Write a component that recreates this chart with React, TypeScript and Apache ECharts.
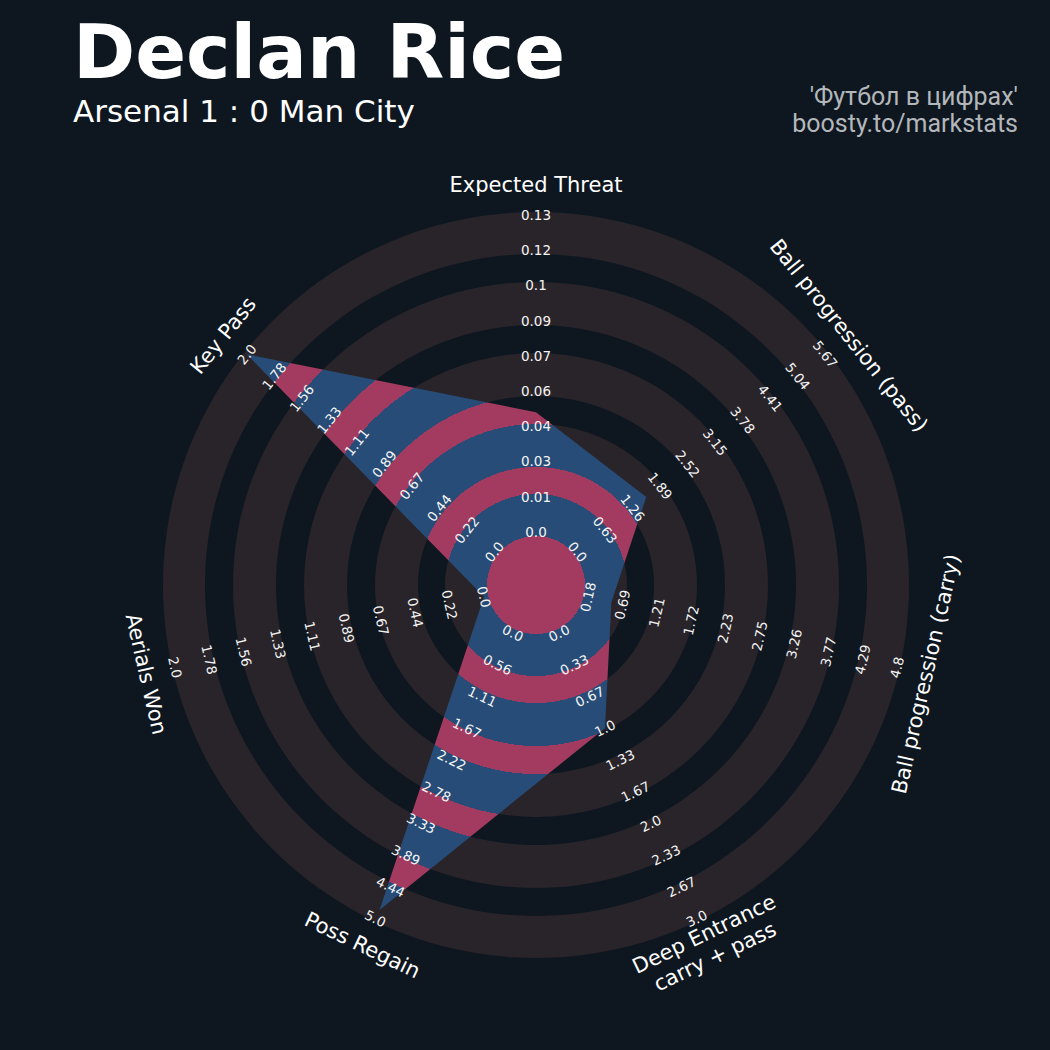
import React, { useEffect, useRef } from 'react';
import * as echarts from 'echarts';

// ---------------- data ----------------
const PARAMS = [
  'Expected Threat',
  'Ball progression (pass)',
  'Ball progression (carry)',
  'Deep Entrance\ncarry + pass',
  'Poss Regain',
  'Aerials Won',
  'Key Pass',
];
const RANGE_MIN = [0, 0, 0.18, 0, 0, 0, 0];
const RANGE_MAX = [0.13, 5.67, 4.8, 3.0, 5.0, 2.0, 2.0];
const VALUES = [0.049, 1.57, 0.53, 1.0, 4.85, 0, 2.0];

const TICKS_XT = ['0.0', '0.01', '0.03', '0.04', '0.06', '0.07', '0.09', '0.1', '0.12', '0.13'];
const TICKS_PASS = ['0.0', '0.63', '1.26', '1.89', '2.52', '3.15', '3.78', '4.41', '5.04', '5.67'];
const TICKS_CARRY = ['0.18', '0.69', '1.21', '1.72', '2.23', '2.75', '3.26', '3.77', '4.29', '4.8'];
const TICKS_DEEP = ['0.0', '0.33', '0.67', '1.0', '1.33', '1.67', '2.0', '2.33', '2.67', '3.0'];
const TICKS_REGAIN = ['0.0', '0.56', '1.11', '1.67', '2.22', '2.78', '3.33', '3.89', '4.44', '5.0'];
const TICKS_AERIAL = ['0.0', '0.22', '0.44', '0.67', '0.89', '1.11', '1.33', '1.56', '1.78', '2.0'];
const TICKS_KEYPASS = ['0.0', '0.22', '0.44', '0.67', '0.89', '1.11', '1.33', '1.56', '1.78', '2.0'];
const TICKS = [TICKS_XT, TICKS_PASS, TICKS_CARRY, TICKS_DEEP, TICKS_REGAIN, TICKS_AERIAL, TICKS_KEYPASS];

const TITLE = 'Declan Rice';
const SUBTITLE = 'Arsenal 1 : 0 Man City';
const CREDIT_1 = "'Футбол в цифрах'";
const CREDIT_2 = 'boosty.to/markstats';

// ---------------- layout / style ----------------
const CX = 536;
const CY = 585;
const R_ZERO = 53.3; // pixel radius of the range minimum
const UNIT = 316.8; // pixels from range min to range max
const K = R_ZERO / UNIT;
const T_MAX = 1.2;
const T_NAME = (400 - R_ZERO) / UNIT;
const BAND_EDGES = [0, 49, 91, 118, 161, 189, 232, 260, 303, 331, 373];
const OUTER = 373;

const BG = '#0e1720';
const RING = '#28242a';
const BLUE = '#264c77';
const RED = '#a33a5f';
const TEXT = '#ffffff';
const CREDIT_COLOR = '#b3b7bb';

const N = PARAMS.length;
const ANGLES = PARAMS.map((_, i) => (i * 360) / N);
const NORM = VALUES.map((v, i) => (v - RANGE_MIN[i]) / (RANGE_MAX[i] - RANGE_MIN[i]));

const cwRot = (theta: number) => (theta <= 90 ? theta : theta < 270 ? theta - 180 : theta - 360);

export default function App() {
  const ref = useRef<HTMLDivElement>(null);

  useEffect(() => {
    document.body.style.margin = '0';
    document.body.style.background = BG;
    const chart = echarts.init(ref.current!, null, { renderer: 'svg' });

    const rings: any[] = [];
    for (let j = 1; j < BAND_EDGES.length - 1; j += 2) {
      rings.push({
        type: 'ring',
        z: 0,
        shape: { cx: CX, cy: CY, r0: BAND_EDGES[j], r: BAND_EDGES[j + 1] },
        style: { fill: RING },
        silent: true,
      });
    }

    const stops: any[] = [];
    for (let j = 0; j < BAND_EDGES.length - 1; j++) {
      const c = j % 2 === 0 ? RED : BLUE;
      stops.push({ offset: BAND_EDGES[j] / OUTER, color: c });
      stops.push({ offset: BAND_EDGES[j + 1] / OUTER, color: c });
    }

    const tickData: number[][] = [];
    TICKS.forEach((arr, i) => {
      arr.forEach((_, j) => {
        tickData.push([j / (arr.length - 1), ANGLES[i], i, j]);
      });
    });

    const option: any = {
      animation: false,
      backgroundColor: BG,
      polar: { center: [CX, CY], radius: (T_MAX + K) * UNIT },
      radiusAxis: { type: 'value', min: -K, max: T_MAX, show: false },
      angleAxis: { type: 'value', min: 0, max: 360, startAngle: 90, clockwise: true, show: false },
      graphic: [
        ...rings,
        {
          type: 'text',
          x: 73,
          y: 52,
          style: { text: TITLE, fill: TEXT, font: 'bold 75px "DejaVu Sans"', align: 'left', verticalAlign: 'middle' },
        },
        {
          type: 'text',
          x: 73,
          y: 111,
          style: { text: SUBTITLE, fill: TEXT, font: '31px "DejaVu Sans"', align: 'left', verticalAlign: 'middle' },
        },
        {
          type: 'text',
          x: 1018,
          y: 96,
          style: { text: CREDIT_1, fill: CREDIT_COLOR, font: '25px Roboto', align: 'right', verticalAlign: 'middle' },
        },
        {
          type: 'text',
          x: 1018,
          y: 123,
          style: { text: CREDIT_2, fill: CREDIT_COLOR, font: '25px Roboto', align: 'right', verticalAlign: 'middle' },
        },
      ],
      series: [
        {
          type: 'custom',
          coordinateSystem: 'polar',
          encode: { radius: 0, angle: 1 },
          z: 2,
          data: NORM.map((t, i) => [t, ANGLES[i]]),
          renderItem: (params: any, api: any) => {
            if (params.dataIndex !== 0) return null;
            const pts = NORM.map((t, i) => api.coord([t, ANGLES[i]]));
            const c = api.coord([-K, 0]);
            return {
              type: 'polygon',
              shape: { points: pts },
              style: { fill: new echarts.graphic.RadialGradient(c[0], c[1], OUTER, stops, true) },
            };
          },
        },
        {
          type: 'custom',
          coordinateSystem: 'polar',
          encode: { radius: 0, angle: 1 },
          z: 3,
          data: tickData,
          renderItem: (params: any, api: any) => {
            const p = api.coord([api.value(0), api.value(1)]);
            const i = api.value(2);
            const j = api.value(3);
            return {
              type: 'text',
              x: p[0],
              y: p[1],
              rotation: (-cwRot(ANGLES[i]) * Math.PI) / 180,
              style: {
                text: TICKS[i][j],
                fill: '#f4f4f4',
                font: '13.5px "DejaVu Sans"',
                align: 'center',
                verticalAlign: 'middle',
              },
            };
          },
        },
        {
          type: 'custom',
          coordinateSystem: 'polar',
          encode: { radius: 0, angle: 1 },
          z: 3,
          data: PARAMS.map((_, i) => [T_NAME, ANGLES[i], i]),
          renderItem: (params: any, api: any) => {
            const p = api.coord([api.value(0), api.value(1)]);
            const i = api.value(2);
            return {
              type: 'text',
              x: p[0],
              y: p[1],
              rotation: (-cwRot(ANGLES[i]) * Math.PI) / 180,
              style: {
                text: PARAMS[i],
                fill: TEXT,
                font: '21px "DejaVu Sans"',
                lineHeight: 25,
                align: 'center',
                verticalAlign: 'middle',
              },
            };
          },
        },
      ],
    };

    chart.setOption(option);
    return () => chart.dispose();
  }, []);

  return <div ref={ref} style={{ width: 1050, height: 1050 }} />;
}
